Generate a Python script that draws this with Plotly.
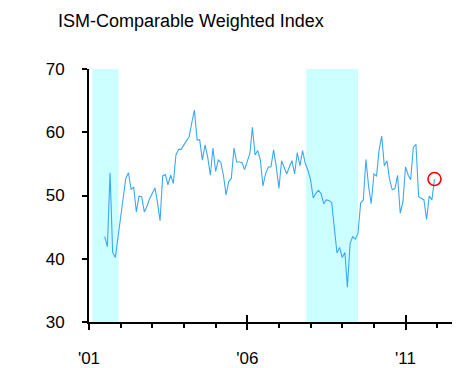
import pandas as pd
import plotly.graph_objects as go

# Monthly ISM-comparable weighted index, Jul 2001 - Dec 2011
start_month = "2001-07-01"
index_values = [
    43.5, 41.9, 53.6, 41.0, 40.2, 43.5, 46.6, 50.0, 52.7, 53.6, 51.0, 51.3,
    47.4, 49.9, 49.8, 47.4, 48.3, 49.5, 50.3, 51.2, 49.0, 46.0, 53.1, 53.3,
    51.7, 53.2, 51.9, 56.4, 57.3, 57.3, 58.0, 58.8, 59.3, 61.5, 63.5, 58.8,
    58.8, 55.6, 58.0, 56.1, 53.2, 57.5, 53.8, 55.6, 55.3, 53.2, 50.1, 52.2,
    52.7, 57.5, 55.3, 55.3, 55.2, 54.1, 55.5, 56.7, 60.8, 56.4, 57.1, 55.6,
    51.5, 53.5, 54.5, 54.5, 57.2, 54.6, 51.1, 55.5, 54.5, 53.4, 54.5, 55.5,
    53.4, 56.8, 54.7, 57.1, 55.1, 54.0, 52.5, 49.6, 50.3, 50.8, 50.3, 48.7,
    49.3, 49.2, 48.9, 45.1, 40.9, 41.8, 40.2, 41.0, 35.5, 42.4, 43.5, 43.1,
    44.0, 48.8, 49.3, 55.7, 51.4, 48.7, 53.4, 53.1, 57.1, 59.4, 54.7, 55.5,
    52.5, 50.9, 51.1, 53.2, 47.2, 48.9, 54.5, 53.2, 52.5, 57.6, 58.1, 49.8,
    49.6, 49.3, 46.2, 49.9, 49.3, 52.6,
]
dates = pd.date_range(start_month, periods=len(index_values), freq="MS")

# Recession periods (shaded)
recessions = [("2001-02-10", "2001-12-08"), ("2007-11-12", "2009-07-01")]

# Axis ticks
year_ticks = ["2001-01-01", "2006-01-01", "2011-01-01"]
year_labels = ["'01", "'06", "'11"]
x_range = ["2001-01-01", "2012-06-20"]
y_range = [30, 70]

FONT = "Arial, Liberation Sans, sans-serif"

fig = go.Figure()

for r0, r1 in recessions:
    fig.add_vrect(x0=r0, x1=r1, fillcolor="#CCFFFF", line_width=0, layer="below")

fig.add_trace(go.Scatter(
    x=dates, y=index_values, mode="lines",
    line=dict(color="#3AA8F8", width=1.1), showlegend=False, hoverinfo="x+y",
))

# Latest reading highlighted with an open circle
fig.add_trace(go.Scatter(
    x=[dates[-1]], y=[index_values[-1]], mode="markers",
    marker=dict(symbol="circle-open", size=13, color="#FF0000", line=dict(width=1.6)),
    showlegend=False,
))

# Upper half of the major year ticks (they cross the axis line)
fig.add_trace(go.Scatter(x=[], y=[], xaxis="x2", showlegend=False))

fig.update_layout(
    width=466, height=368,
    margin=dict(l=89, r=14, t=69, b=46),
    paper_bgcolor="white", plot_bgcolor="white",
    font=dict(family=FONT, size=17, color="black"),
    title=dict(
        text="ISM-Comparable Weighted Index",
        font=dict(family=FONT, size=18, color="black"),
        xref="container", x=58 / 466, xanchor="left",
        yref="container", y=1 - 21 / 368, yanchor="middle",
    ),
    xaxis=dict(
        type="date", range=x_range, automargin=False,
        tickvals=year_ticks, ticktext=year_labels,
        ticks="outside", ticklen=6, tickwidth=2, tickcolor="black",
        minor=dict(dtick="M12", tick0="2001-01-01", ticks="outside",
                   ticklen=4, tickwidth=2, tickcolor="black"),
        showline=True, linecolor="black", linewidth=2,
        showgrid=False, zeroline=False,
        ticklabelstandoff=14,
        tickfont=dict(family=FONT, size=17),
    ),
    xaxis2=dict(
        type="date", range=x_range, overlaying="x", automargin=False,
        tickvals=year_ticks, ticks="inside", ticklen=7, tickwidth=2,
        tickcolor="black", showticklabels=False, showgrid=False,
        zeroline=False, showline=False,
    ),
    yaxis=dict(
        range=y_range, dtick=10, tick0=30, automargin=False,
        ticks="outside", ticklen=5, tickwidth=2, tickcolor="black",
        showline=True, linecolor="black", linewidth=2,
        showgrid=False, zeroline=False,
        ticklabelstandoff=14,
        tickfont=dict(family=FONT, size=17),
    ),
)

fig.write_html("out.html")
